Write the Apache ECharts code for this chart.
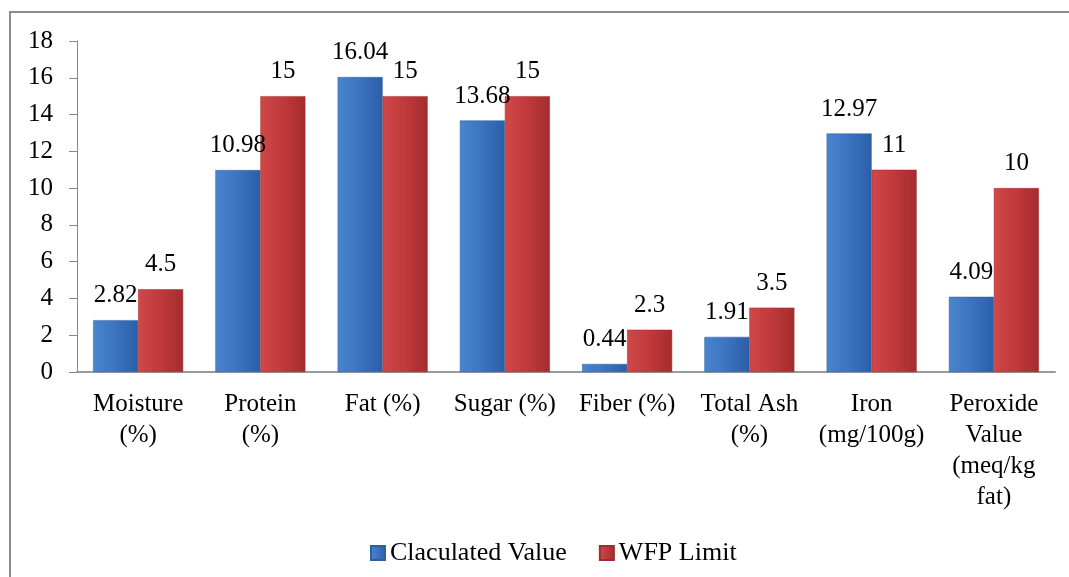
<!DOCTYPE html>
<html>
<head>
<meta charset="utf-8">
<script src="https://cdn.jsdelivr.net/npm/echarts@6/dist/echarts.min.js"></script>
<style>
  html, body { margin: 0; padding: 0; background: #fff; overflow: hidden; }
  #frame { position: absolute; left: 9px; top: 11px; width: 1200px; height: 700px; border: 2px solid #8c8c8c; }
  #chart { position: absolute; left: 0; top: 0; width: 1069px; height: 577px; }
</style>
</head>
<body>
<div id="frame"></div>
<div id="chart"></div>
<script>
// category labels and the two series
const categories = [
    'Moisture\n(%)', 'Protein\n(%)', 'Fat (%)', 'Sugar (%)', 'Fiber (%)',
    'Total Ash\n(%)', 'Iron\n(mg/100g)', 'Peroxide\nValue\n(meq/kg\nfat)'
];
const calculated = [2.82, 10.98, 16.04, 13.68, 0.44, 1.91, 12.97, 4.09];
const wfpLimit = [4.5, 15, 15, 15, 2.3, 3.5, 11, 10];

const font = '"Liberation Serif", "Times New Roman", serif';

// horizontal shading to mimic the office-style bevelled bars
const shade = (a, b, c) => new echarts.graphic.LinearGradient(0, 0, 1, 0, [
    { offset: 0, color: a },
    { offset: 0.5, color: b },
    { offset: 1, color: c }
]);

const chart = echarts.init(document.getElementById('chart'));

const option = {
    animation: false,
    grid: { left: 77, right: 14, top: 41, bottom: 205 },
    legend: {
        left: 365,
        top: 535,
        itemWidth: 14,
        itemHeight: 14,
        itemGap: 32,
        icon: 'rect',
        textStyle: { fontFamily: font, fontSize: 26, color: '#000' },
        data: ['Claculated Value', 'WFP Limit']
    },
    xAxis: {
        type: 'category',
        data: categories,
        axisLine: { lineStyle: { color: '#9a9a9a', width: 2 } },
        axisTick: { show: false },
        axisLabel: {
            interval: 0,
            margin: 17,
            fontFamily: font,
            fontSize: 25,
            lineHeight: 31,
            color: '#000'
        }
    },
    yAxis: {
        type: 'value',
        min: 0,
        max: 18,
        interval: 2,
        splitLine: { show: false },
        axisLine: { show: true, lineStyle: { color: '#868686' } },
        axisTick: { show: true, length: 8, lineStyle: { color: '#868686' } },
        axisLabel: { margin: 24, fontFamily: font, fontSize: 25, color: '#000' }
    },
    series: [
        {
            name: 'Claculated Value',
            type: 'bar',
            data: calculated,
            barWidth: 45,
            barGap: '0%',
            itemStyle: {
                color: shade('#4a85d0', '#3b73bf', '#2c5ea8'),
                borderColor: '#2f5f9e',
                borderWidth: 0.5
            },
            label: {
                show: true,
                position: 'top',
                distance: 12,
                fontFamily: font,
                fontSize: 25,
                color: '#000'
            }
        },
        {
            name: 'WFP Limit',
            type: 'bar',
            data: wfpLimit,
            barWidth: 45,
            itemStyle: {
                color: shade('#d04848', '#c0393b', '#a42c2e'),
                borderColor: '#9a2d2d',
                borderWidth: 0.5
            },
            label: {
                show: true,
                position: 'top',
                distance: 12,
                fontFamily: font,
                fontSize: 25,
                color: '#000'
            }
        }
    ]
};

chart.setOption(option);
window.addEventListener('resize', chart.resize);
</script>
</body>
</html>
